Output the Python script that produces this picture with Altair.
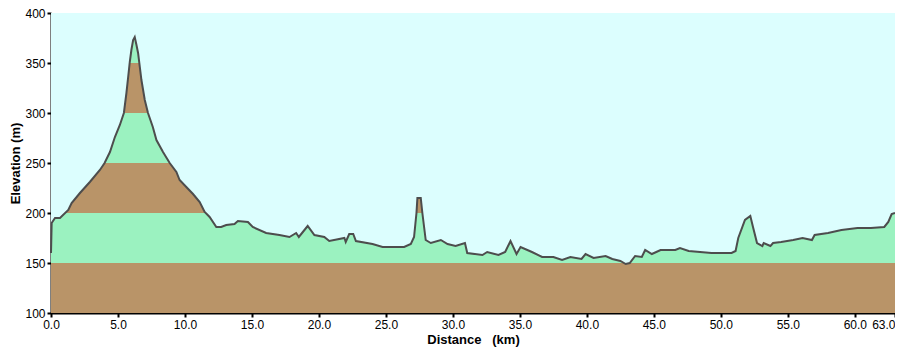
import altair as alt
import pandas as pd

km = [0.0, 0.05, 0.3, 0.67, 1.29, 1.54, 2.16, 2.9, 3.65, 4.0, 4.4, 4.77, 5.14, 5.44, 5.63, 5.76,
      5.88, 6.0, 6.13, 6.25, 6.38, 6.5, 6.75, 7.0, 7.24, 7.6, 7.87, 8.36, 8.86, 9.36, 9.6, 10.1,
      10.6, 11.1, 11.47, 11.84, 12.34, 12.7, 13.08, 13.7, 13.95, 14.7, 15.06, 16.06, 17.05, 17.8,
      18.3, 18.5, 19.16, 19.66, 20.4, 20.77, 21.9, 22.0, 22.26, 22.56, 22.76, 24.0, 24.75, 26.36,
      26.86, 27.1, 27.28, 27.35, 27.6, 27.72, 27.97, 28.35, 29.1, 29.6, 30.2, 30.9, 31.07, 32.2,
      32.56, 33.4, 33.9, 34.3, 34.75, 35.05, 35.9, 36.66, 37.5, 38.15, 38.77, 39.6, 39.9, 40.5,
      41.4, 41.9, 42.5, 42.9, 43.2, 43.6, 44.1, 44.35, 44.85, 45.5, 46.6, 46.95, 47.6, 49.3, 50.8,
      51.1, 51.3, 51.8, 52.2, 52.4, 52.7, 53.1, 53.2, 53.7, 53.9, 54.5, 55.4, 56.1, 56.8, 57.0,
      58.0, 59.0, 60.2, 61.2, 62.2, 62.5, 62.75, 63.0]
elev = [160, 190, 195, 195, 203, 210, 220, 231, 243, 250, 261, 276, 288, 300, 320, 336,
        351, 363, 373, 376, 368, 360, 333, 313, 300, 286, 273, 261, 250, 241, 233, 226,
        219, 211, 201, 196, 186, 186, 188, 189, 192, 191, 186, 180, 178, 176,
        180, 176, 187, 178, 176, 172, 175, 171, 179, 179, 172, 169, 166, 166,
        169, 176, 200, 215, 215, 200, 173, 170, 173, 169, 167, 170, 160, 158,
        161, 158, 161, 172, 159, 166, 161, 156, 156, 153, 156, 154, 159, 155,
        157, 154, 152, 149, 150, 157, 156, 163, 159, 163, 163, 165, 162, 160, 160,
        162, 175, 193, 197, 186, 170, 167, 170, 167, 170, 171, 173, 175, 173, 178,
        180, 183, 185, 185, 186, 191, 199, 200]

band_lo = [100, 150, 200, 250, 300, 350]
band_hi = [150, 200, 250, 300, 350, 400]
band_col = ["#b99468", "#9bf2c0", "#b99468", "#9bf2c0", "#b99468", "#9bf2c0"]

x_ticks = [0, 5, 10, 15, 20, 25, 30, 35, 40, 45, 50, 55, 60, 63]
y_ticks = [100, 150, 200, 250, 300, 350, 400]

SKY = "#dcfefe"

prof = pd.DataFrame({"km": km, "elev": elev})
prof["top"] = 400
bands = pd.DataFrame({"lo": band_lo, "hi": band_hi, "col": band_col})
bands["x0"] = 0.0
bands["x1"] = 63.0

xs = alt.Scale(domain=[0, 63], nice=False, zero=False)
ys = alt.Scale(domain=[100, 400], nice=False, zero=False)

xaxis = alt.Axis(values=x_ticks, format=".1f", title="Distance\u00a0\u00a0\u00a0(km)",
                 grid=False,
                 labelAlign=alt.ExprRef(expr="datum.value >= 63 ? 'right' : 'center'"))
yaxis = alt.Axis(values=y_ticks, format="d", title="Elevation (m)", grid=False,
                 titleX=-29)

band_layer = alt.Chart(bands).mark_rect().encode(
    x=alt.X("x0:Q", scale=xs, axis=xaxis),
    x2="x1:Q",
    y=alt.Y("lo:Q", scale=ys, axis=yaxis),
    y2="hi:Q",
    color=alt.Color("col:N", scale=None),
)

sky = alt.Chart(prof).mark_area(color=SKY, opacity=1).encode(
    x=alt.X("km:Q", scale=xs),
    y=alt.Y("elev:Q", scale=ys),
    y2="top:Q",
)

line = alt.Chart(prof).mark_line(color="#4d4d4d", strokeWidth=2).encode(
    x=alt.X("km:Q", scale=xs),
    y=alt.Y("elev:Q", scale=ys),
)

chart = alt.layer(band_layer, sky, line).properties(
    width=844, height=300, background="white",
    autosize=alt.AutoSizeParams(type="none"),
    padding={"left": 43, "top": 5, "right": 0, "bottom": 37},
).configure_view(
    fill=SKY, stroke="black", strokeWidth=1,
).configure_axis(
    labelFont="Liberation Sans", labelFontSize=12, labelColor="black",
    titleFont="Liberation Sans", titleFontSize=13, titleFontWeight="bold", titleColor="black",
    domainColor="black", domainWidth=2, tickColor="black", tickWidth=2, tickSize=4,
    labelPadding=2,
).configure_axisX(
    titlePadding=3, labelFlush=False,
)

chart.save("out.html", embed_options={"renderer": "svg", "actions": False})
